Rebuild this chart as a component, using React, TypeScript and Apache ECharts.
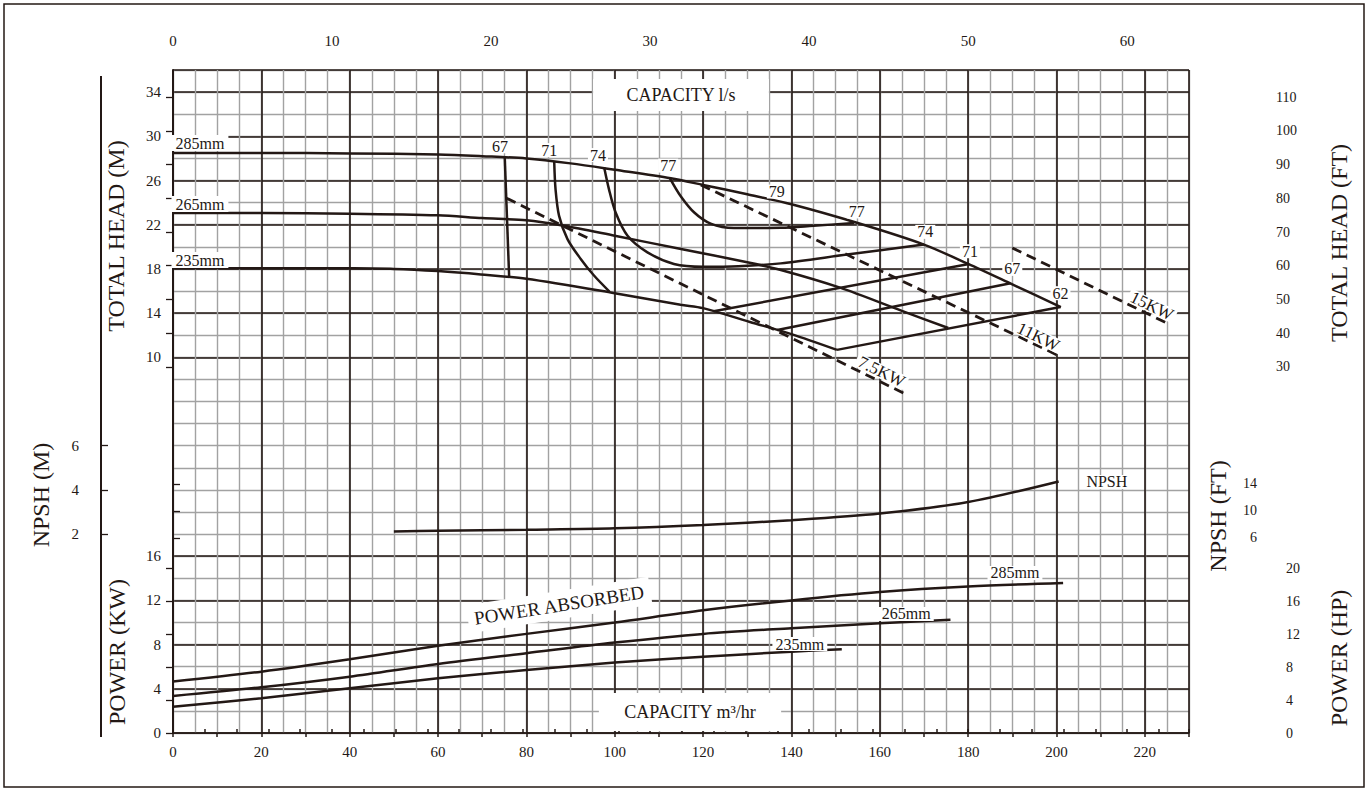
import React, { useEffect, useRef } from "react";
import * as echarts from "echarts";

const INK = "#231815";
const GRID_GRAY = "#a2a2a2";
const FONT = "'Liberation Serif', 'Times New Roman', serif";

// ---------- axes ----------
const FLOW_MAX = 230; // m3/hr
const LS_MAX = FLOW_MAX / 3.6; // l/s

// ---------- head curves (Q m3/hr, H m) ----------
const head285 = [[0, 28.5], [20, 28.5], [40, 28.45], [60, 28.35], [70, 28.2], [80, 28.0], [90, 27.55], [100, 26.97], [112.7, 26.2], [120, 25.6], [130, 24.75], [140, 23.85], [155, 22.15], [170, 20.2], [180, 18.45], [190, 16.6], [201, 14.55]];
const head265 = [[0, 23.05], [20, 23.05], [40, 23.0], [60, 22.85], [70, 22.6], [80, 22.4], [88.5, 21.9], [100, 21.0], [115, 19.8], [130, 18.6], [137.6, 17.9], [151, 16.3], [165, 14.2], [175.5, 12.65]];
const head235 = [[0, 18.07], [20, 18.07], [40, 18.05], [50, 18.0], [60, 17.8], [69.7, 17.5], [80, 17.1], [100, 15.8], [114.9, 14.75], [120, 14.45], [130.6, 13.2], [140, 12.1], [150.3, 10.67]];

// ---------- iso-efficiency lines ----------
const eff67Left = [[75.1, 28.1], [76.1, 17.25]];
const eff67Right = [[136.8, 12.47], [189.6, 16.7]];
const eff71Left = [[86.3, 27.7], [86.6, 25.2], [87.4, 22.8], [89.3, 20.7], [92.3, 18.9], [95.3, 17.4], [98.8, 15.95]];
const eff71Right = [[122.4, 14.17], [180.2, 18.45]];
const eff74 = [[97.6, 27.2], [98.7, 25.2], [100.2, 23.1], [102.9, 21.0], [107.4, 19.5], [113.4, 18.45], [120, 18.2], [128, 18.25], [137.6, 18.5], [152.6, 19.3], [170, 20.2]];
const eff77 = [[112.5, 26.2], [114.9, 24.6], [118, 23.1], [121.7, 22.1], [127, 21.7], [137.6, 21.72], [145, 21.9], [154.2, 22.15]];
const eff62 = [[150.3, 10.67], [200.9, 14.55]];

// ---------- motor power lines ----------
const kw75 = [[75.5, 24.4], [165.7, 6.7]];
const kw11 = [[119.5, 25.6], [200.2, 10.2]];
const kw15 = [[190, 19.9], [224.7, 13.15]];

// ---------- NPSH (m) ----------
const npshCurve = [[50, 2.12], [60, 2.15], [80, 2.2], [100, 2.26], [120, 2.41], [140, 2.63], [160, 2.93], [180, 3.45], [200.5, 4.38]];

// ---------- power absorbed (kW) ----------
const power285 = [[0, 4.65], [20, 5.55], [40, 6.67], [60, 7.9], [80, 8.97], [100, 10.0], [120, 11.1], [140, 12.0], [160, 12.75], [180, 13.25], [201.5, 13.58]];
const power265 = [[0, 3.35], [20, 4.14], [40, 5.1], [60, 6.25], [80, 7.22], [100, 8.18], [120, 8.97], [140, 9.48], [160, 9.93], [176, 10.26]];
const power235 = [[0, 2.38], [20, 3.14], [40, 4.05], [60, 4.95], [80, 5.7], [100, 6.37], [120, 6.9], [140, 7.36], [151.4, 7.58]];

// ---------- annotations ----------
const headCurveLabels = [
  { name: "285mm", value: [6.1, 29.39] },
  { name: "265mm", value: [6.1, 23.87] },
  { name: "235mm", value: [6.1, 18.8] },
];
const effLabels = [
  { name: "67", value: [74.0, 29.1] },
  { name: "71", value: [85.2, 28.75] },
  { name: "74", value: [96.2, 28.3] },
  { name: "77", value: [112.1, 27.35] },
  { name: "79", value: [136.7, 25.0] },
  { name: "77", value: [154.8, 23.2] },
  { name: "74", value: [170.3, 21.35] },
  { name: "71", value: [180.4, 19.6] },
  { name: "67", value: [190.0, 18.0] },
  { name: "62", value: [200.9, 15.8] },
];
const kwLabels = [
  { name: "7.5KW", value: [160.4, 8.7] },
  { name: "11KW", value: [195.9, 11.86] },
  { name: "15KW", value: [221.6, 14.64] },
];
const powerLabels = [
  { name: "285mm", value: [190.6, 14.48] },
  { name: "265mm", value: [166, 10.77] },
  { name: "235mm", value: [141.9, 8.05] },
];
const powerTitle = [{ name: "POWER ABSORBED", value: [87.4, 11.58] }];
const npshLabel = [{ name: "NPSH", value: [211.4, 4.36] }];

// ---------- layout ----------
const PLOT_LEFT = 173;
const PLOT_TOP = 70;
const PLOT_W = 1016;
const PLOT_H = 663;
const CELL = PLOT_H / 30;
const LEFT_AXIS_X = 101;
const RIGHT_AXIS_X = 1273;
const FT = 0.3048;
const HP = 0.7457;

export default function App() {
  const ref = useRef<HTMLDivElement>(null);

  useEffect(() => {
    if (!ref.current) return;
    const chart = echarts.init(ref.current, undefined, { renderer: "svg" });

    const g = (top: number, height: number, left = PLOT_LEFT, width = PLOT_W) => ({
      left,
      top,
      width,
      height,
      containLabel: false,
      outerBoundsMode: "none",
    });

    const npsh0 = PLOT_TOP + 23 * CELL;
    const rightW = RIGHT_AXIS_X - PLOT_LEFT;
    const grids = [
      g(PLOT_TOP, PLOT_H), // 0 paper
      g(PLOT_TOP, PLOT_H), // 1 dark verticals + right frame line
      g(PLOT_TOP, PLOT_H), // 2 bottom axis
      g(PLOT_TOP, PLOT_H), // 3 top axis l/s
      g(PLOT_TOP, 13 * CELL), // 4 head (m)
      g(PLOT_TOP + 22 * CELL, 8 * CELL), // 5 power kW
      g(PLOT_TOP + 17 * CELL, 4 * CELL), // 6 npsh m (curve)
      g(npsh0 - 14 * FT * CELL, 8 * FT * CELL, PLOT_LEFT, rightW), // 7 npsh ft axis
      g(PLOT_TOP + ((36 - 110 * FT) * CELL) / 2, (80 * FT * CELL) / 2, PLOT_LEFT, rightW), // 8 head ft axis
      g(PLOT_TOP + PLOT_H - (20 * HP * CELL) / 2, (20 * HP * CELL) / 2, PLOT_LEFT, rightW), // 9 hp axis
      g(PLOT_TOP + 17 * CELL, 4 * CELL, LEFT_AXIS_X, PLOT_LEFT + PLOT_W - LEFT_AXIS_X), // 10 npsh m axis
    ];

    const tickLabel = { fontFamily: FONT, fontSize: 15, color: INK };
    const hiddenX = (i: number) => ({ type: "value", gridIndex: i, min: 0, max: FLOW_MAX, show: false });

    const xAxis: any[] = [
      {
        type: "value", gridIndex: 0, min: 0, max: FLOW_MAX, interval: 5,
        axisLine: { show: false }, axisTick: { show: false }, axisLabel: { show: false },
        splitLine: { show: true, lineStyle: { color: GRID_GRAY, width: 1.4 } },
      },
      {
        type: "value", gridIndex: 1, min: 0, max: FLOW_MAX, interval: 20,
        axisLine: { show: false }, axisTick: { show: false }, axisLabel: { show: false },
        splitLine: { show: true, lineStyle: { color: INK, width: 1.6 } },
      },
      {
        type: "value", gridIndex: 2, position: "bottom", min: 0, max: FLOW_MAX, interval: 10,
        axisLine: { show: false },
        axisTick: { show: true, length: 4, lineStyle: { color: INK, width: 1.5 } },
        axisLabel: {
          ...tickLabel, margin: 11,
          formatter: (v: number) => (v % 20 === 0 && v < FLOW_MAX ? String(v) : ""),
        },
        splitLine: { show: false },
      },
      {
        type: "value", gridIndex: 3, position: "top", offset: 9, min: 0, max: LS_MAX, interval: 2,
        axisLine: { show: true, lineStyle: { color: INK, width: 1.6 } },
        axisTick: { show: true, length: 4, lineStyle: { color: INK, width: 1.5 } },
        axisLabel: {
          ...tickLabel, margin: 13,
          formatter: (v: number) => (Math.abs(v - Math.round(v / 10) * 10) < 1e-6 ? String(Math.round(v)) : ""),
        },
        splitLine: { show: false },
      },
      hiddenX(4), hiddenX(5), hiddenX(6), hiddenX(7), hiddenX(8), hiddenX(9), hiddenX(10),
    ];

    const sideTick = (inside: boolean) => ({ show: true, inside, length: 7, lineStyle: { color: INK, width: 1.3 } });

    const yAxis: any[] = [
      {
        type: "value", gridIndex: 0, min: 0, max: 30, interval: 1,
        axisLine: { show: false }, axisTick: { show: false }, axisLabel: { show: false },
        splitLine: { show: true, lineStyle: { color: GRID_GRAY, width: 1.4 } },
      },
      {
        type: "value", gridIndex: 1, position: "right", offset: RIGHT_AXIS_X - PLOT_LEFT - PLOT_W, min: 0, max: 1,
        axisLine: { show: true, lineStyle: { color: INK, width: 2 } },
        axisTick: { show: false }, axisLabel: { show: false }, splitLine: { show: false },
      },
      { type: "value", gridIndex: 2, min: 0, max: 1, show: false },
      { type: "value", gridIndex: 3, min: 0, max: 1, show: false },
      {
        type: "value", gridIndex: 4, position: "left", min: 10, max: 36, interval: 4,
        axisLine: { show: false }, axisTick: { show: false },
        axisLabel: { ...tickLabel, margin: 12, showMaxLabel: false },
        splitLine: { show: true, lineStyle: { color: INK, width: 1.6 } },
      },
      {
        type: "value", gridIndex: 5, position: "left", min: 0, max: 16, interval: 4,
        axisLine: { show: false }, axisTick: { show: false },
        axisLabel: { ...tickLabel, margin: 12 },
        splitLine: { show: true, lineStyle: { color: INK, width: 1.6 } },
      },
      { type: "value", gridIndex: 6, min: 2, max: 6, show: false },
      {
        type: "value", gridIndex: 7, position: "right", min: 6, max: 14, interval: 4,
        axisLine: { show: false },
        axisTick: sideTick(false),
        axisLabel: { ...tickLabel, fontSize: 14, inside: true, margin: 16 },
        splitLine: { show: false },
      },
      {
        type: "value", gridIndex: 8, position: "right", min: 30, max: 110, interval: 10,
        axisLine: { show: false },
        axisTick: sideTick(true),
        axisLabel: { ...tickLabel, fontSize: 14, margin: 3 },
        splitLine: { show: false },
      },
      {
        type: "value", gridIndex: 9, position: "right", min: 0, max: 20, interval: 4,
        axisLine: { show: false },
        axisTick: sideTick(true),
        axisLabel: { ...tickLabel, fontSize: 14, margin: 13 },
        splitLine: { show: false },
      },
      {
        type: "value", gridIndex: 10, position: "left", min: 2, max: 6, interval: 2,
        axisLine: { show: false },
        axisTick: sideTick(true),
        axisLabel: { ...tickLabel, margin: 22 },
        splitLine: { show: false },
      },
    ];

    const line = (name: string, data: number[][], gi: number, dashed = false, smooth: number | boolean = 0.3) => ({
      type: "line",
      name,
      data,
      xAxisIndex: gi,
      yAxisIndex: gi,
      symbol: "none",
      showSymbol: false,
      smooth,
      clip: false,
      silent: true,
      z: 3,
      lineStyle: { color: INK, width: dashed ? 2.8 : 2.5, type: dashed ? [10, 6] : "solid", cap: "butt" },
      emphasis: { disabled: true },
    });

    const ann = (name: string, data: any[], gi: number, extra: any = {}) => ({
      type: "scatter",
      name,
      data,
      xAxisIndex: gi,
      yAxisIndex: gi,
      symbolSize: 1,
      itemStyle: { color: "rgba(255,255,255,0)" },
      clip: false,
      silent: true,
      z: 6,
      label: {
        show: true,
        position: "inside",
        formatter: "{b}",
        fontFamily: FONT,
        fontSize: 16,
        color: INK,
        textBorderWidth: 0,
        textBorderColor: "transparent",
        opacity: 1,
        lineHeight: 14,
        backgroundColor: "#fff",
        padding: [0, 2],
        ...extra,
      },
      emphasis: { disabled: true },
    });

    const series: any[] = [
      line("285mm head", head285, 4),
      line("265mm head", head265, 4),
      line("235mm head", head235, 4),
      line("67% left", eff67Left, 4, false, false),
      line("67% right", eff67Right, 4, false, false),
      line("71% left", eff71Left, 4),
      line("71% right", eff71Right, 4, false, false),
      line("74%", eff74, 4),
      line("77%", eff77, 4),
      line("62%", eff62, 4, false, false),
      line("7.5KW", kw75, 4, true, false),
      line("11KW", kw11, 4, true, false),
      line("15KW", kw15, 4, true, false),
      line("NPSH", npshCurve, 6),
      line("285mm power", power285, 5),
      line("265mm power", power265, 5),
      line("235mm power", power235, 5),
      ann("head curve labels", headCurveLabels, 4, { padding: [1, 4] }),
      ann("efficiency labels", effLabels, 4),
      ann("kw labels", kwLabels, 4, { fontSize: 17, rotate: -26, padding: [0, 3] }),
      ann("power labels", powerLabels, 5, { padding: [0, 3] }),
      ann("power title", powerTitle, 5, { fontSize: 19, lineHeight: 22, rotate: 9, padding: [3, 6] }),
      ann("npsh label", npshLabel, 6, { padding: [0, 3] }),
    ];

    const title = (text: string, x: number, y: number) => ({
      type: "text",
      x,
      y,
      rotation: Math.PI / 2,
      z: 100,
      silent: true,
      style: { text, fontFamily: FONT, fontSize: 24, fill: INK, align: "center", verticalAlign: "middle" },
    });

    const graphic: any[] = [
      {
        type: "rect", z: 100, silent: true,
        shape: { x: 4, y: 4, width: 1360, height: 783 },
        style: { fill: "none", stroke: INK, lineWidth: 1.5 },
      },
      {
        type: "line", z: 100, silent: true,
        shape: { x1: LEFT_AXIS_X, y1: 76, x2: LEFT_AXIS_X, y2: 737 },
        style: { stroke: INK, lineWidth: 2 },
      },
      title("TOTAL HEAD (M)", 116, 236),
      title("NPSH (M)", 41, 495),
      title("POWER (KW)", 117, 652),
      title("TOTAL HEAD (FT)", 1339, 243),
      title("NPSH (FT)", 1218, 516),
      title("POWER (HP)", 1339, 658),
      {
        type: "text", x: 681, y: 95, z: 100, silent: true,
        style: {
          text: "CAPACITY l/s", fontFamily: FONT, fontSize: 18, fill: INK,
          align: "center", verticalAlign: "middle", backgroundColor: "#fff", padding: [7, 33],
        },
      },
      {
        type: "text", x: 690, y: 712, z: 100, silent: true,
        style: {
          text: "CAPACITY m³/hr", fontFamily: FONT, fontSize: 18, fill: INK,
          align: "center", verticalAlign: "middle", backgroundColor: "#fff", padding: [10, 25],
        },
      },
    ];

    chart.setOption({
      animation: false,
      backgroundColor: "#fff",
      textStyle: { fontFamily: FONT },
      grid: grids,
      xAxis,
      yAxis,
      series,
      graphic,
    });

    return () => chart.dispose();
  }, []);

  return (
    <div
      ref={ref}
      style={{ position: "absolute", left: 0, top: 0, width: 1368, height: 790, background: "#fff" }}
    />
  );
}
